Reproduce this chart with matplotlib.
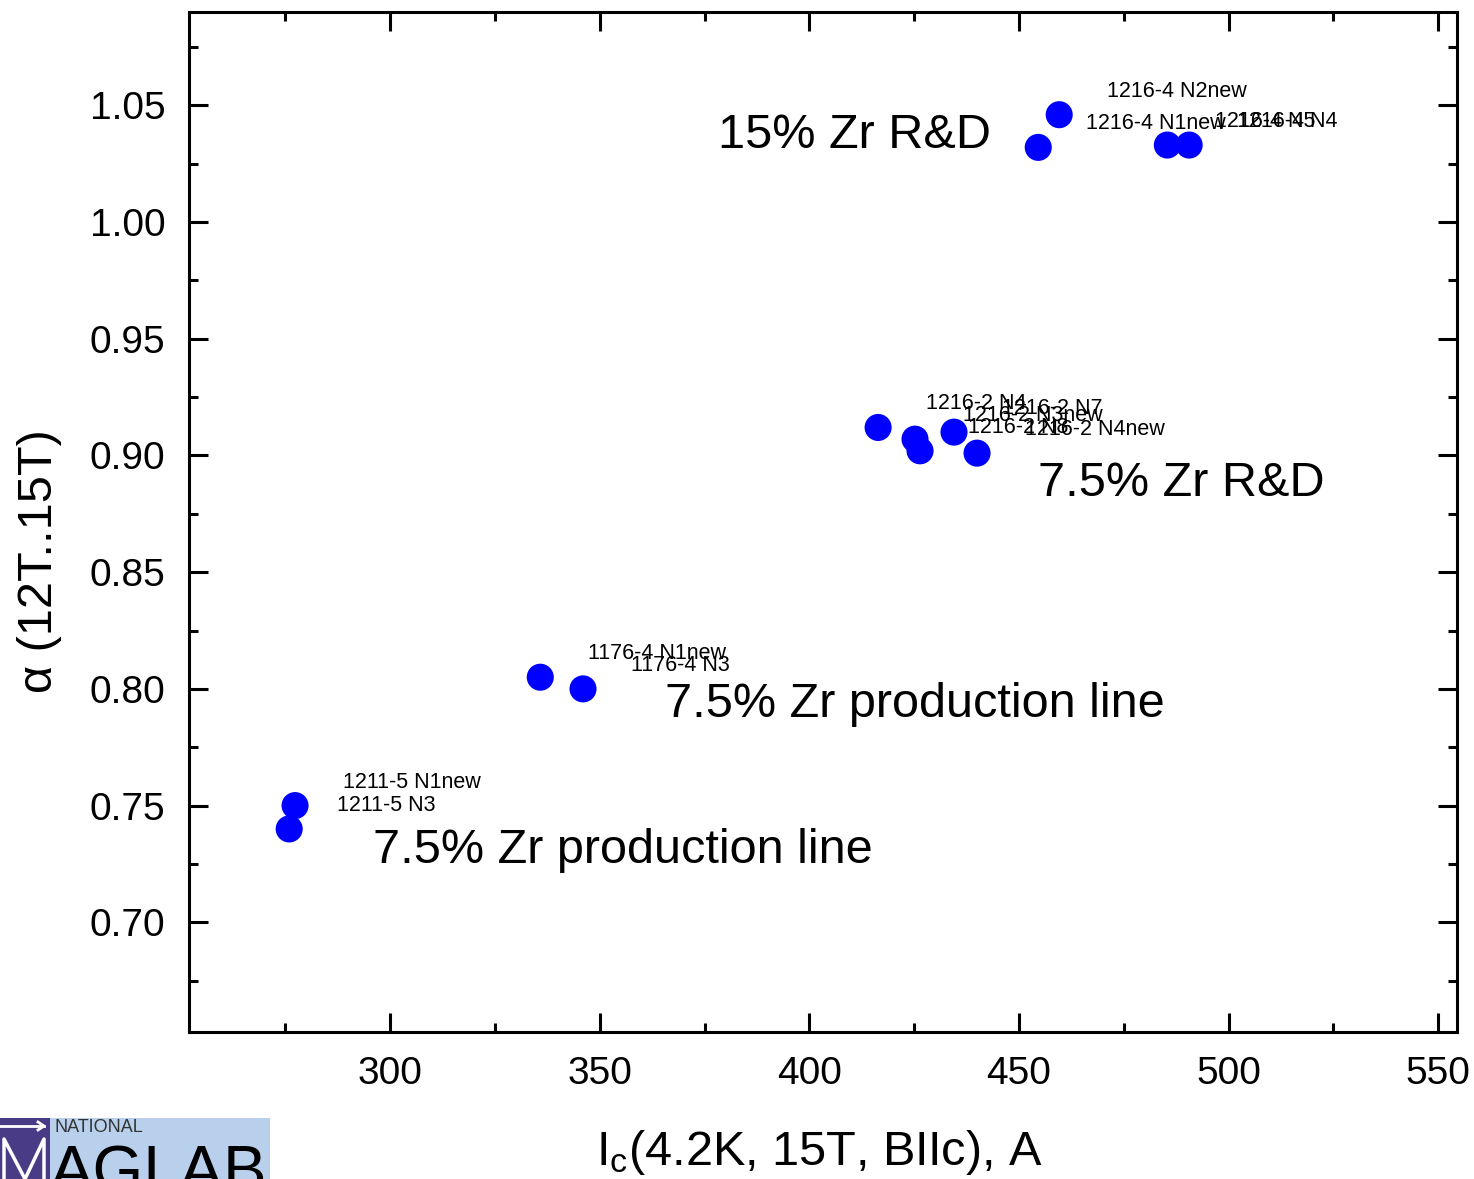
#!/usr/bin/env python3
"""
Alpha (12T..15T) vs Ic scatter with sample labels
"""

import matplotlib
matplotlib.use('Agg')
import matplotlib.pyplot as plt
from matplotlib.ticker import MultipleLocator, FormatStrFormatter
from matplotlib.patches import Rectangle
from matplotlib.lines import Line2D

plt.rcParams['font.family'] = ['Liberation Sans', 'DejaVu Sans']
plt.rcParams['mathtext.default'] = 'regular'

# Sample data
ic = [454.6, 459.6, 485.4, 490.6, 416.4, 425.2, 426.4, 434.5, 440.0,
      335.8, 346.0, 277.3, 275.9]
alpha = [1.032, 1.046, 1.033, 1.033, 0.912, 0.907, 0.902, 0.910, 0.901,
         0.805, 0.800, 0.750, 0.740]
names = ["1216-4 N1new", "1216-4 N2new", "1216-4 N5", "1216-4 N4",
         "1216-2 N4", "1216-2 N3new", "1216-2 N8", "1216-2 N7", "1216-2 N4new",
         "1176-4 N1new", "1176-4 N3", "1211-5 N1new", "1211-5 N3"]

# Group annotations
group_text = ["15% Zr R&D", "7.5% Zr R&D",
              "7.5% Zr production line", "7.5% Zr production line"]
group_x = [378.2, 454.6, 365.6, 295.9]
group_y = [1.0316, 0.8826, 0.7878, 0.7254]

W, H = 1474, 1179
fig = plt.figure(figsize=(W / 100, H / 100), dpi=100)
fig.patch.set_facecolor('white')
ax = fig.add_axes([189 / W, 1 - 1032 / H, (1457 - 189) / W, (1032 - 12) / H])

ax.scatter(ic, alpha, s=380, c='#0000ff', edgecolors='none', zorder=3)

for x, y, name in zip(ic, alpha, names):
    ax.annotate(name, (x, y), xytext=(34.6, 13.0), textcoords='offset points',
                fontsize=15.5, va='baseline', ha='left', zorder=4)

for t, x, y in zip(group_text, group_x, group_y):
    ax.text(x, y, t, fontsize=35, va='baseline', ha='left')

ax.set_xlim(252, 554.5)
ax.set_ylim(0.653, 1.09)
ax.xaxis.set_major_locator(MultipleLocator(50))
ax.xaxis.set_minor_locator(MultipleLocator(25))
ax.yaxis.set_major_locator(MultipleLocator(0.05))
ax.yaxis.set_minor_locator(MultipleLocator(0.025))
ax.yaxis.set_major_formatter(FormatStrFormatter('%.2f'))

for sp in ax.spines.values():
    sp.set_linewidth(2.2)
ax.tick_params(which='both', direction='in', top=True, right=True,
               width=2.2, labelsize=28)
ax.tick_params(which='major', length=13.5, pad=17)
ax.tick_params(which='minor', length=6.5)

ax.set_xlabel(r'$I_c$(4.2K, 15T, BIIc), A', fontsize=35)
ax.set_ylabel('α (12T..15T)', fontsize=35)
ax.xaxis.set_label_coords(0.497, -0.094)
ax.yaxis.set_label_coords(-0.1, 0.462)

# MagLab logo in the bottom-left corner
fig.patches.append(Rectangle((0, 0), 270 / W, 61 / H, transform=fig.transFigure,
                             facecolor='#b8d0ec', edgecolor='none'))
fig.patches.append(Rectangle((0, 0), 50 / W, 61 / H, transform=fig.transFigure,
                             facecolor='#4a3b86', edgecolor='none'))
mx = [4 / W, 4 / W, 25 / W, 44 / W, 44 / W]
my = [0, 40 / H, 0, 40 / H, 0]
fig.lines.append(Line2D(mx, my, transform=fig.transFigure, color='white', lw=2.5))
fig.lines.append(Line2D([0, 44 / W], [53 / H, 53 / H], transform=fig.transFigure,
                        color='white', lw=2))
fig.lines.append(Line2D([38 / W, 44 / W, 38 / W], [57 / H, 53 / H, 49 / H],
                        transform=fig.transFigure, color='white', lw=2))
fig.text(55 / W, 51 / H, 'NATIONAL', fontsize=13, va='center', ha='left',
         color='#333333')
fig.text(50 / W, -13 / H, 'AGLAB', fontsize=47, va='baseline', ha='left',
         color='black')

fig.savefig('out.png', dpi=100, facecolor='white')
